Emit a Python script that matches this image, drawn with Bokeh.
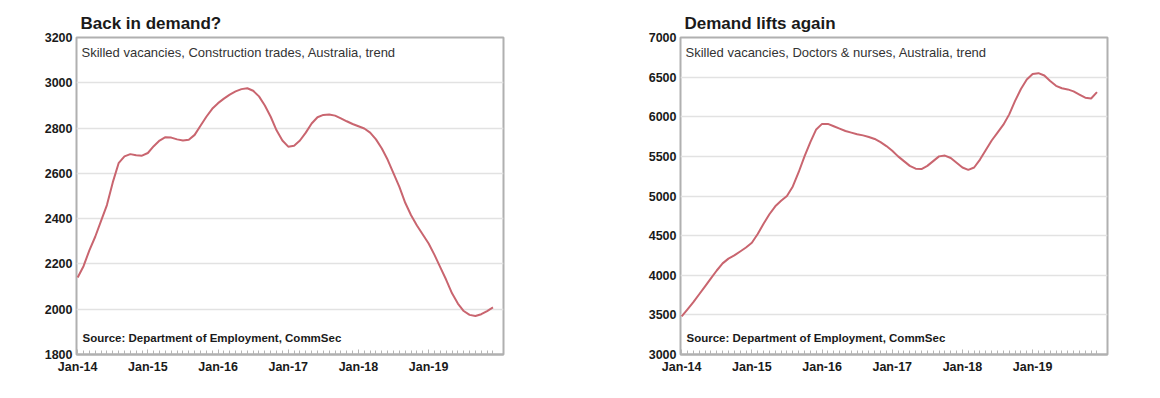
from bokeh.plotting import figure
from bokeh.layouts import row
from bokeh.models import FixedTicker, Label
from bokeh.embed import file_html
from bokeh.resources import INLINE

# Monthly, Jan-2014 .. Dec-2019
months = list(range(72))
tick_pos = [0, 12, 24, 36, 48, 60]
tick_labels = ["Jan-14", "Jan-15", "Jan-16", "Jan-17", "Jan-18", "Jan-19"]

construction = [
    2140, 2190, 2260, 2320, 2390, 2460, 2560, 2645, 2675, 2685, 2680, 2678,
    2690, 2720, 2745, 2760, 2758, 2750, 2745, 2748, 2770, 2810, 2850, 2885,
    2910, 2930, 2948, 2962, 2972, 2976, 2965, 2940, 2900, 2850, 2790, 2745,
    2718, 2722, 2745, 2780, 2820, 2848, 2858, 2860, 2855, 2843, 2830, 2818,
    2808, 2798, 2780, 2750, 2710, 2660, 2600, 2540, 2470, 2415, 2370, 2330,
    2290, 2240, 2185, 2130, 2070, 2025, 1992, 1975, 1970, 1978, 1992, 2008,
]

doctors = [
    3480, 3570, 3660, 3760, 3860, 3960, 4060, 4150, 4210, 4250, 4300, 4350,
    4410, 4520, 4650, 4770, 4870, 4940, 5000, 5120, 5300, 5500, 5680, 5840,
    5910, 5910, 5880, 5850, 5820, 5800, 5780, 5765, 5745, 5720, 5680, 5630,
    5570, 5500, 5440, 5380, 5345, 5340, 5380, 5440, 5500, 5510, 5480, 5420,
    5360, 5330, 5360, 5460, 5580, 5700, 5800, 5900, 6030, 6200, 6350, 6470,
    6540, 6550, 6520, 6450, 6390, 6360, 6345, 6320, 6280, 6240, 6230, 6310,
]

titles = ["Back in demand?", "Demand lifts again"]
subtitles = ["Skilled vacancies, Construction trades, Australia, trend",
             "Skilled vacancies, Doctors & nurses, Australia, trend"]
source = "Source: Department of Employment, CommSec"

FONT = "Liberation Sans"
LINE = "#c9656f"


def make(series, yr, ystep, title, subtitle, bl, br):
    p = figure(frame_width=427, frame_height=317, output_backend="svg",
               toolbar_location=None, x_range=(-0.2, 72.8), y_range=yr,
               min_border_left=bl, min_border_right=br, min_border_top=37,
               min_border_bottom=0)
    p.title.text = title
    p.title.text_font = FONT
    p.title.text_font_size = "17px"
    p.title.text_font_style = "bold"
    p.title.text_color = "#1a1a1a"
    p.title.offset = 4
    p.title.standoff = 10
    p.line(months, series, line_color=LINE, line_width=2)

    p.xaxis.ticker = FixedTicker(ticks=tick_pos, minor_ticks=months)
    p.xaxis.major_label_overrides = dict(zip(tick_pos, tick_labels))
    p.xaxis.major_tick_in = 5
    p.xaxis.major_tick_out = 0
    p.xaxis.minor_tick_in = 4
    p.xaxis.minor_tick_out = 0
    p.xaxis.major_tick_line_color = "#b5b5b5"
    p.xaxis.minor_tick_line_color = "#b5b5b5"
    p.xaxis.axis_line_color = "#b0b0b0"
    p.xaxis.axis_line_width = 2
    p.xaxis.major_label_standoff = 5
    p.yaxis.ticker = FixedTicker(ticks=list(range(yr[0], yr[1] + 1, ystep)))
    p.yaxis.major_tick_in = 0
    p.yaxis.major_tick_out = 0
    p.yaxis.axis_line_color = None
    p.yaxis.major_label_standoff = 4
    for ax in (p.xaxis, p.yaxis):
        ax.major_label_text_font = FONT
        ax.major_label_text_font_size = "12.5px"
        ax.major_label_text_font_style = "bold"
        ax.major_label_text_color = "#1a1a1a"
    p.xgrid.grid_line_color = None
    p.ygrid.grid_line_color = "#e2e2e2"
    p.ygrid.grid_line_width = 1.5
    p.outline_line_color = "#b0b0b0"
    p.outline_line_width = 2
    p.background_fill_color = "white"
    p.border_fill_color = "white"

    p.add_layout(Label(x=5, y=302, x_units="screen", y_units="screen",
                       text=subtitle, text_font=FONT, text_font_size="13px",
                       text_color="#333333", text_baseline="middle"))
    p.add_layout(Label(x=6, y=17, x_units="screen", y_units="screen",
                       text=source, text_font=FONT, text_font_size="11.5px",
                       text_font_style="bold", text_color="#1a1a1a",
                       text_baseline="middle"))
    return p


p1 = make(construction, (1800, 3200), 200, titles[0], subtitles[0], 76, 57)
p2 = make(doctors, (3000, 7000), 500, titles[1], subtitles[1], 120, 32)
layout = row(p1, p2, spacing=0)

open("out.html", "w").write(file_html(layout, INLINE))
